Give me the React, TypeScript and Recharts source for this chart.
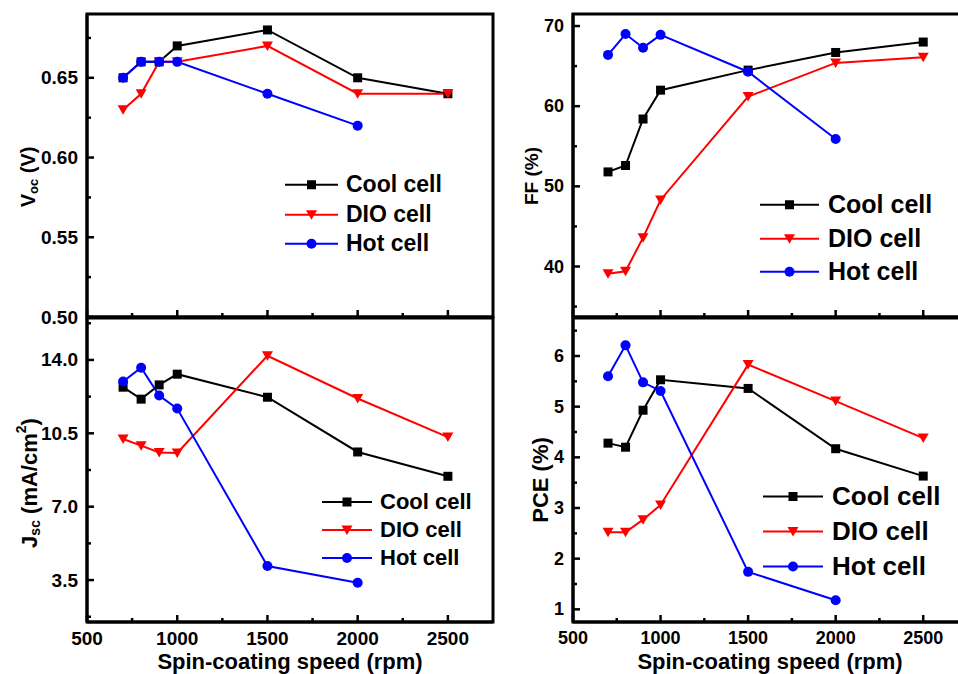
import React from 'react';
import { LineChart, Line, XAxis, YAxis, ReferenceArea, Legend } from 'recharts';

// ---------- data ----------
const speeds = [700, 800, 900, 1000, 1500, 2000, 2500];
const seriesNames = ['Cool cell', 'DIO cell', 'Hot cell'];
const seriesColors = ['#000000', '#FF0000', '#0000FF'];

const vocCool = [0.65, 0.66, 0.66, 0.67, 0.68, 0.65, 0.64];
const vocDio = [0.63, 0.64, 0.66, 0.66, 0.67, 0.64, 0.64];
const vocHot = [0.65, 0.66, 0.66, 0.66, 0.64, 0.62];

const ffCool = [51.8, 52.6, 58.4, 62.0, 64.5, 66.7, 68.0];
const ffDio = [39.1, 39.4, 43.6, 48.3, 61.2, 65.4, 66.1];
const ffHot = [66.4, 69.0, 67.3, 68.9, 64.3, 55.9];

const jscCool = [12.7, 12.13, 12.81, 13.32, 12.22, 9.61, 8.45];
const jscDio = [10.23, 9.91, 9.59, 9.56, 14.2, 12.16, 10.32];
const jscHot = [12.97, 13.63, 12.3, 11.68, 4.17, 3.37];

const pceCool = [4.28, 4.2, 4.93, 5.53, 5.36, 4.17, 3.63];
const pceDio = [2.52, 2.52, 2.77, 3.06, 5.83, 5.11, 4.38];
const pceHot = [5.6, 6.21, 5.48, 5.31, 1.74, 1.18];

const xDomain: [number, number] = [500, 2750];
const xMajorTicks = [500, 1000, 1500, 2000, 2500];
const xMinorTicks = [750, 1250, 1750, 2250];

const vocDomain: [number, number] = [0.5, 0.69];
const vocMajor = [0.5, 0.55, 0.6, 0.65];
const vocMinor = [0.525, 0.575, 0.625, 0.675];

const ffDomain: [number, number] = [33.7, 71.5];
const ffMajor = [40, 50, 60, 70];
const ffMinor = [35, 45, 55, 65];

const jscDomain: [number, number] = [1.5, 16];
const jscMajor = [3.5, 7.0, 10.5, 14.0];
const jscMinor = [1.75, 5.25, 8.75, 12.25, 15.75];

const pceDomain: [number, number] = [0.75, 6.75];
const pceMajor = [1, 2, 3, 4, 5, 6];
const pceMinor = [1.5, 2.5, 3.5, 4.5, 5.5, 6.5];

const FONT = '"Liberation Sans", Arial, Helvetica, sans-serif';

const toRows = (vals: number[]) => vals.map((y, i) => ({ x: speeds[i], y }));

// ---------- markers ----------
function Marker({ kind, cx, cy }: { kind: number; cx: number; cy: number }) {
  if (kind === 0) return <rect x={cx - 4.5} y={cy - 4.5} width={9} height={9} fill={seriesColors[0]} />;
  if (kind === 1)
    return (
      <polygon
        points={`${cx - 5.5},${cy - 4.5} ${cx + 5.5},${cy - 4.5} ${cx},${cy + 5}`}
        fill={seriesColors[1]}
      />
    );
  return <circle cx={cx} cy={cy} r={5} fill={seriesColors[2]} />;
}

const isIn = (arr: number[], v: number) => arr.some((m) => Math.abs(m - v) < 1e-9);

function XTick(props: any) {
  const { x, y, payload, showLabel, fontSize } = props;
  const v = payload.value;
  const major = isIn(xMajorTicks, v);
  return (
    <g>
      <line x1={x} x2={x} y1={y} y2={y - (major ? 7 : 4)} stroke="#000" strokeWidth={2.5} />
      {showLabel && major && (
        <text
          x={x}
          y={y + 16}
          textAnchor="middle"
          dominantBaseline="central"
          fontFamily={FONT}
          fontWeight="bold"
          fontSize={fontSize}
          fill="#000"
        >
          {v}
        </text>
      )}
    </g>
  );
}

function YTick(props: any) {
  const { x, y, payload, majors, digits, fontSize } = props;
  const v = payload.value;
  const major = isIn(majors, v);
  return (
    <g>
      <line x1={x} x2={x + (major ? 7 : 4)} y1={y} y2={y} stroke="#000" strokeWidth={2.5} />
      {major && (
        <text
          x={x - 9}
          y={y}
          textAnchor="end"
          dominantBaseline="central"
          fontFamily={FONT}
          fontWeight="bold"
          fontSize={fontSize}
          fill="#000"
        >
          {v.toFixed(digits)}
        </text>
      )}
    </g>
  );
}

function LegendBox({ lineLen, gap, spacing, fontSize }: any) {
  return (
    <div style={{ fontFamily: FONT, fontWeight: 'bold', fontSize, color: '#000' }}>
      {seriesNames.map((n, i) => (
        <div key={n} style={{ display: 'flex', alignItems: 'center', height: spacing }}>
          <svg width={lineLen} height={spacing} style={{ display: 'block' }}>
            <line x1={0} x2={lineLen} y1={spacing / 2} y2={spacing / 2} stroke={seriesColors[i]} strokeWidth={2} />
            <Marker kind={i} cx={lineLen / 2} cy={spacing / 2} />
          </svg>
          <span style={{ marginLeft: gap, lineHeight: `${spacing}px`, whiteSpace: 'nowrap' }}>{n}</span>
        </div>
      ))}
    </div>
  );
}

interface PanelCfg {
  left: number;
  top: number;
  width: number;
  height: number;
  x0: number;
  x1: number;
  y0: number;
  y1: number;
  yDomain: [number, number];
  yMajor: number[];
  yMinor: number[];
  yDigits: number;
  tickFont: number;
  series: number[][];
  showX: boolean;
  yLabel: (lx: number, ly: number) => React.ReactElement;
  yLabelPos: [number, number];
  legend: { x: number; y: number; lineLen: number; gap: number; spacing: number; fontSize: number };
}

function Panel({ cfg }: { cfg: PanelCfg }) {
  const { left, top, width, height, x0, x1, y0, y1 } = cfg;
  const yAxisW = x0 - left;
  const xAxisH = top + height - y1;
  const margin = { top: y0 - top, right: left + width - x1, bottom: 0, left: 0 };
  const yTicks = [...cfg.yMajor, ...cfg.yMinor].sort((a, b) => a - b);
  const xTicks = [...xMajorTicks, ...xMinorTicks].sort((a, b) => a - b);
  const lx = cfg.yLabelPos[0] - left;
  const ly = cfg.yLabelPos[1] - top;
  const xlx = (x0 + x1) / 2 - left;
  const xly = 661 - top;
  return (
    <div style={{ position: 'absolute', left, top }}>
      <LineChart width={width} height={height} margin={margin}>
        <XAxis
          type="number"
          dataKey="x"
          domain={xDomain}
          ticks={xTicks}
          interval={0}
          allowDataOverflow
          height={xAxisH}
          tickSize={0}
          tickMargin={0}
          tickLine={false}
          axisLine={{ stroke: '#000', strokeWidth: 3 }}
          tick={(p: any) => <XTick {...p} showLabel={cfg.showX} fontSize={cfg.tickFont} />}
          label={
            cfg.showX
              ? () => (
                  <text
                    x={xlx}
                    y={xly}
                    textAnchor="middle"
                    dominantBaseline="central"
                    fontFamily={FONT}
                    fontWeight="bold"
                    fontSize={22}
                    fill="#000"
                  >
                    Spin-coating speed (rpm)
                  </text>
                )
              : undefined
          }
        />
        <YAxis
          type="number"
          domain={cfg.yDomain}
          ticks={yTicks}
          interval={0}
          allowDataOverflow
          width={yAxisW}
          tickSize={0}
          tickMargin={0}
          tickLine={false}
          axisLine={{ stroke: '#000', strokeWidth: 3 }}
          tick={(p: any) => <YTick {...p} majors={cfg.yMajor} digits={cfg.yDigits} fontSize={cfg.tickFont} />}
          label={() => cfg.yLabel(lx, ly)}
        />
        <ReferenceArea
          x1={xDomain[0]}
          x2={xDomain[1]}
          y1={cfg.yDomain[0]}
          y2={cfg.yDomain[1]}
          fill="none"
          stroke="#000"
          strokeWidth={3}
          ifOverflow="visible"
        />
        {cfg.series.map((vals, i) => (
          <Line
            key={seriesNames[i]}
            name={seriesNames[i]}
            data={toRows(vals)}
            dataKey="y"
            type="linear"
            stroke={seriesColors[i]}
            strokeWidth={2}
            isAnimationActive={false}
            activeDot={false}
            dot={(p: any) => <Marker key={`m-${i}-${p.index}`} kind={i} cx={p.cx} cy={p.cy} />}
          />
        ))}
        <Legend
          layout="vertical"
          align="center"
          verticalAlign="middle"
          wrapperStyle={{
            left: cfg.legend.x - left,
            top: cfg.legend.y - cfg.legend.spacing / 2 - top,
            width: 'auto',
          }}
          content={() => (
            <LegendBox
              lineLen={cfg.legend.lineLen}
              gap={cfg.legend.gap}
              spacing={cfg.legend.spacing}
              fontSize={cfg.legend.fontSize}
            />
          )}
        />
      </LineChart>
    </div>
  );
}

const rotText = (lx: number, ly: number, fontSize: number, children: React.ReactNode) => (
  <text
    x={lx}
    y={ly}
    transform={`rotate(-90 ${lx} ${ly})`}
    textAnchor="middle"
    dominantBaseline="central"
    fontFamily={FONT}
    fontWeight="bold"
    fontSize={fontSize}
    fill="#000"
  >
    {children}
  </text>
);

const panels: PanelCfg[] = [
  {
    left: 0, top: 0, width: 500, height: 330,
    x0: 87, x1: 493, y0: 14, y1: 317,
    yDomain: vocDomain, yMajor: vocMajor, yMinor: vocMinor, yDigits: 2, tickFont: 19,
    series: [vocCool, vocDio, vocHot], showX: false,
    yLabelPos: [28, 177],
    yLabel: (lx, ly) =>
      rotText(lx, ly, 20, (
        <>
          V<tspan fontSize={13} dy={5}>oc</tspan>
          <tspan dy={-5}> (V)</tspan>
        </>
      )),
    legend: { x: 285, y: 185, lineLen: 53, gap: 8, spacing: 29.5, fontSize: 23 },
  },
  {
    left: 500, top: 0, width: 470, height: 330,
    x0: 573, x1: 967, y0: 14, y1: 317,
    yDomain: ffDomain, yMajor: ffMajor, yMinor: ffMinor, yDigits: 0, tickFont: 18,
    series: [ffCool, ffDio, ffHot], showX: false,
    yLabelPos: [531, 176],
    yLabel: (lx, ly) => rotText(lx, ly, 19, 'FF (%)'),
    legend: { x: 760, y: 205, lineLen: 59, gap: 9, spacing: 33.5, fontSize: 25 },
  },
  {
    left: 0, top: 310, width: 500, height: 364,
    x0: 87, x1: 493, y0: 318, y1: 622,
    yDomain: jscDomain, yMajor: jscMajor, yMinor: jscMinor, yDigits: 1, tickFont: 19,
    series: [jscCool, jscDio, jscHot], showX: true,
    yLabelPos: [29, 483],
    yLabel: (lx, ly) =>
      rotText(lx, ly, 22, (
        <>
          J<tspan fontSize={14} dy={6}>sc</tspan>
          <tspan dy={-6}> (mA/cm</tspan>
          <tspan fontSize={14} dy={-8}>2</tspan>
          <tspan dy={8}>)</tspan>
        </>
      )),
    legend: { x: 322, y: 502, lineLen: 50, gap: 8, spacing: 28, fontSize: 22 },
  },
  {
    left: 500, top: 310, width: 470, height: 364,
    x0: 573, x1: 967, y0: 318, y1: 622,
    yDomain: pceDomain, yMajor: pceMajor, yMinor: pceMinor, yDigits: 0, tickFont: 18,
    series: [pceCool, pceDio, pceHot], showX: true,
    yLabelPos: [540, 480],
    yLabel: (lx, ly) => rotText(lx, ly, 22, 'PCE (%)'),
    legend: { x: 763, y: 496, lineLen: 60, gap: 9, spacing: 35, fontSize: 26 },
  },
];

export default function App() {
  return (
    <div
      style={{
        position: 'absolute',
        left: 0,
        top: 0,
        width: 958,
        height: 674,
        overflow: 'hidden',
        background: '#fff',
      }}
    >
      {panels.map((p, i) => (
        <Panel key={i} cfg={p} />
      ))}
    </div>
  );
}
